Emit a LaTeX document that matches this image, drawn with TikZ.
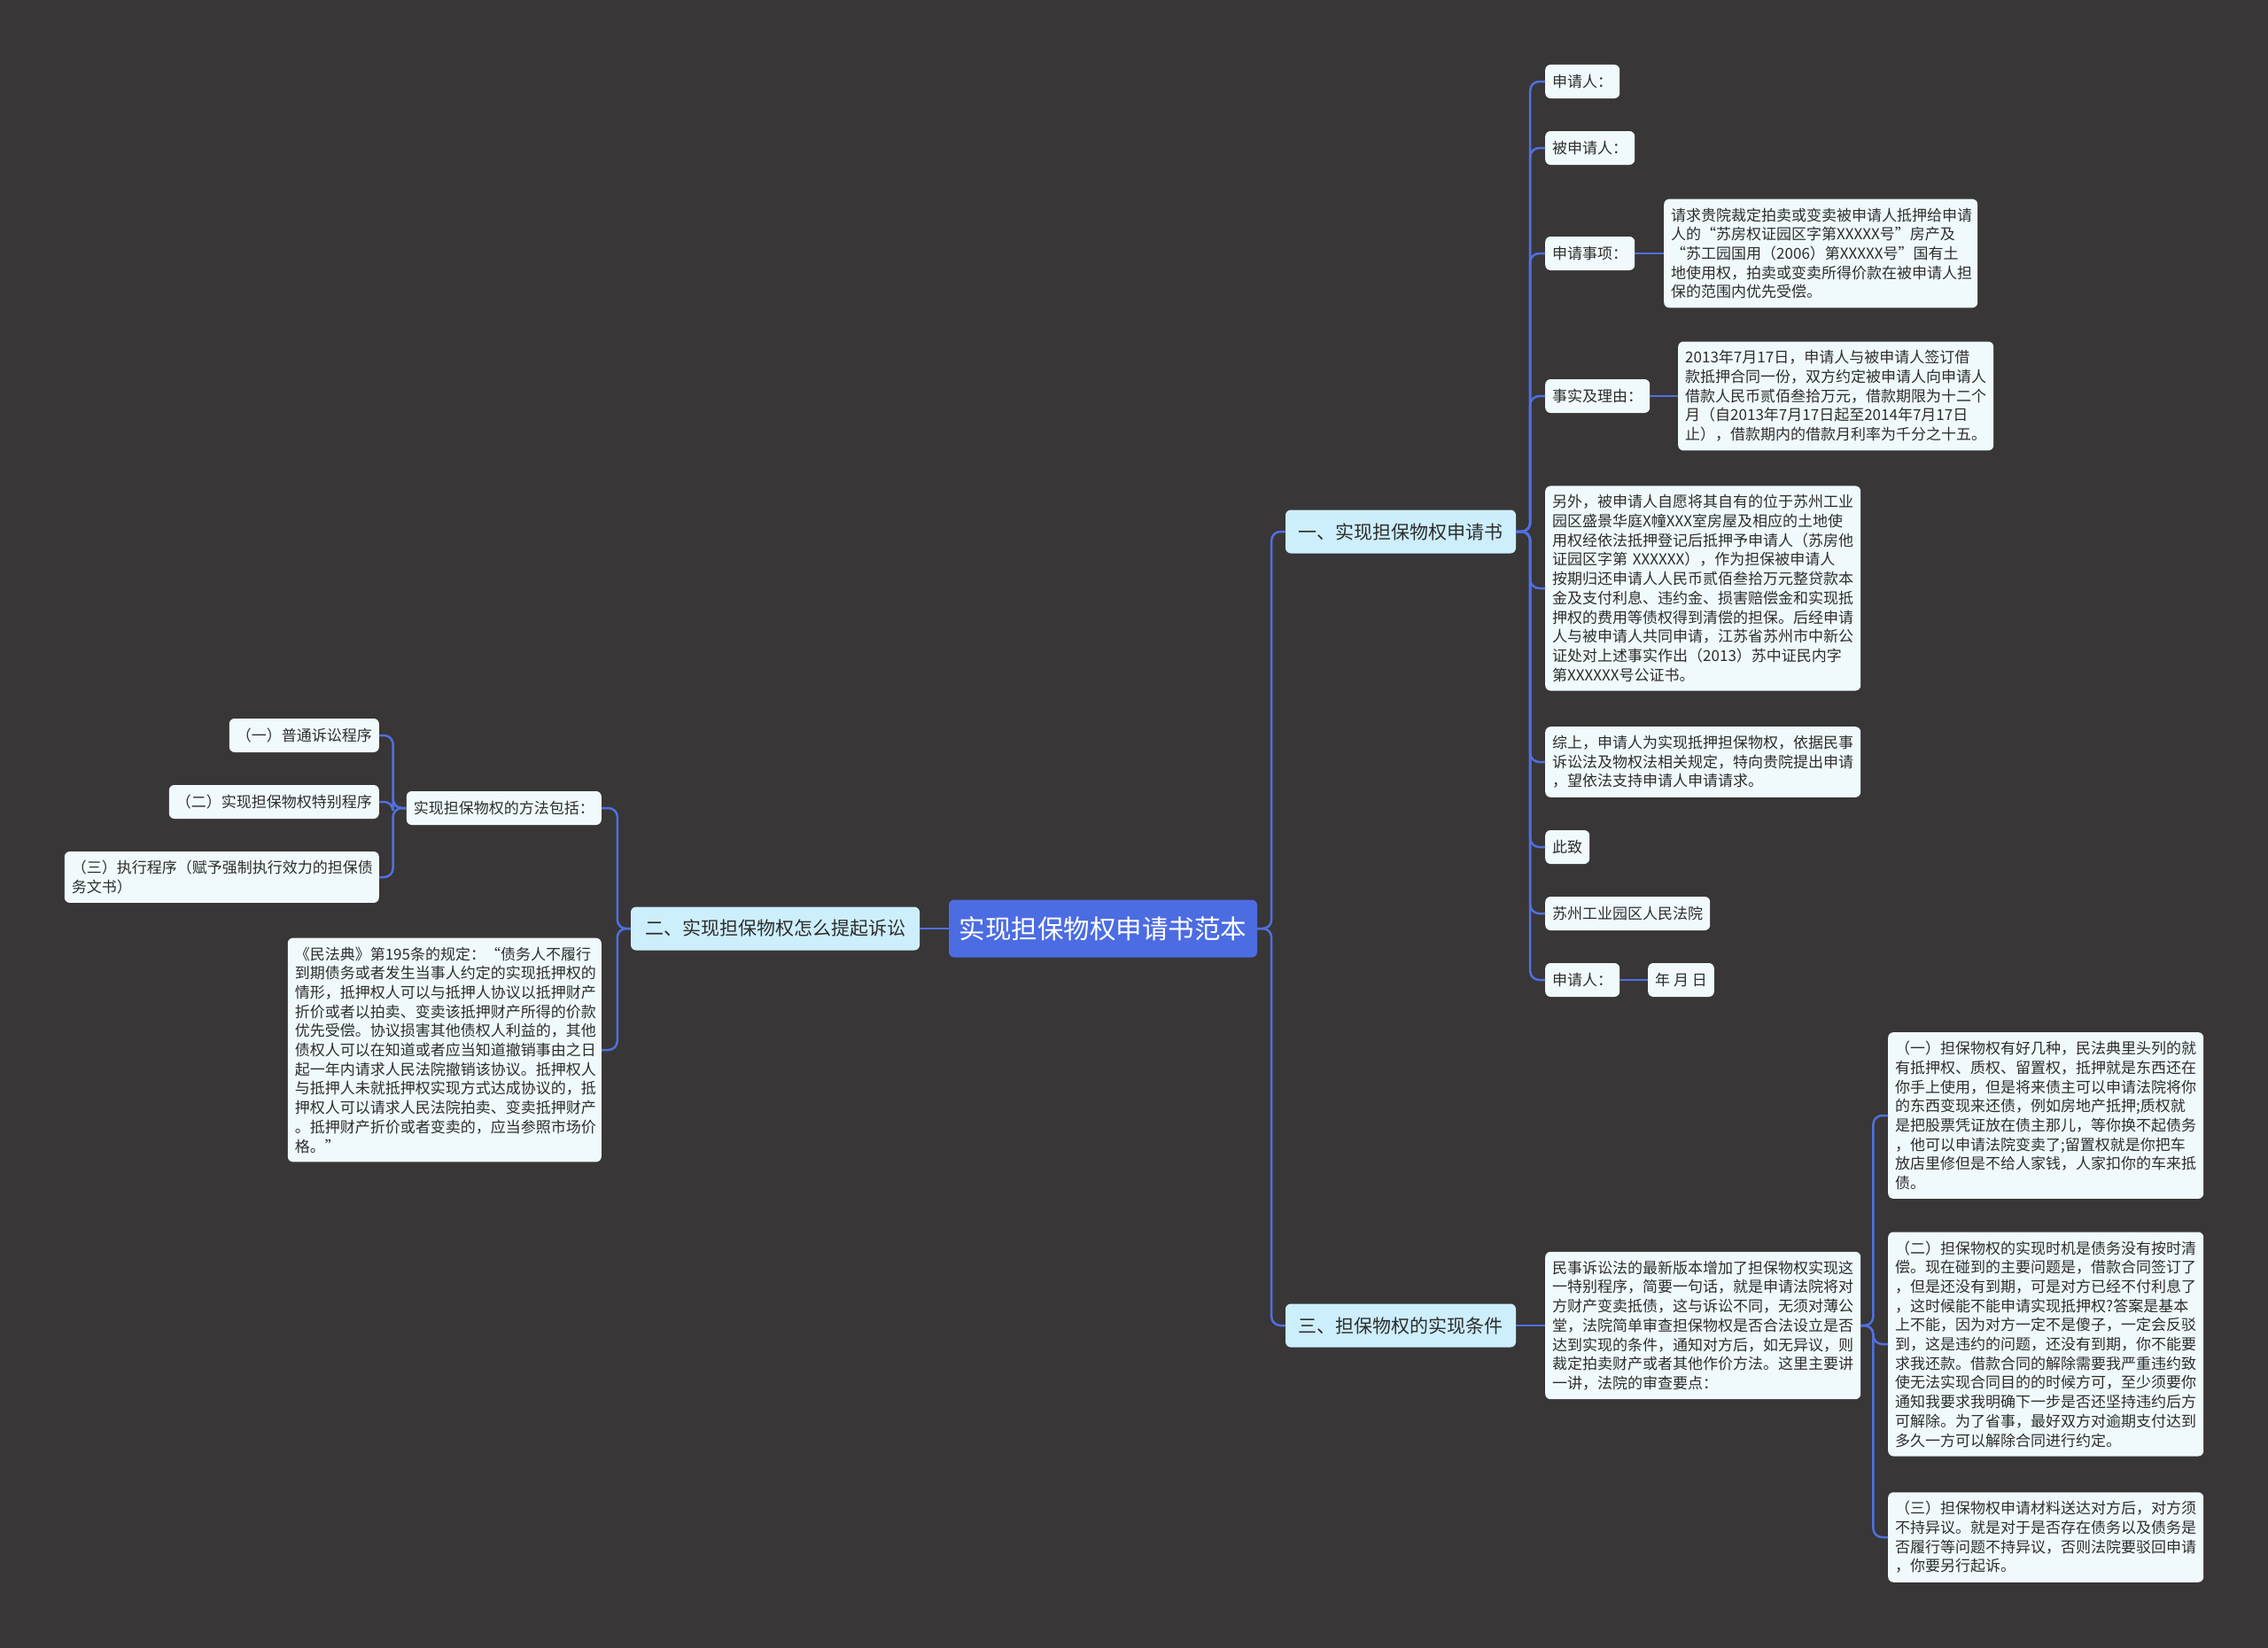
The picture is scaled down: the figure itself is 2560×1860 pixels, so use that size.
\documentclass[tikz,border=0pt]{standalone}
\usepackage{fontspec}
\newfontfamily\cjk{Noto Sans CJK SC}
\definecolor{bgc}{RGB}{56,54,55}
\definecolor{linec}{RGB}{80,112,222}
\definecolor{rootc}{RGB}{76,108,226}
\definecolor{lvlc}{RGB}{205,238,252}
\definecolor{leafc}{RGB}{240,250,253}
\definecolor{txtc}{RGB}{45,45,45}
\tikzset{
  rootbox/.style={fill=rootc, text=white, rounded corners=6pt, minimum width=348pt, minimum height=65pt, inner sep=0pt, font=\cjk\fontsize{29.5}{34}\selectfont},
  lvlbox/.style={fill=lvlc, text=txtc, rounded corners=6pt, minimum height=49pt, inner xsep=9pt, inner ysep=0pt, font=\cjk\fontsize{21}{26}\selectfont},
  leafbox/.style={fill=leafc, text=txtc, rounded corners=6pt, minimum height=38pt, inner xsep=8pt, inner ysep=6pt, font=\cjk\fontsize{17}{21.7}\selectfont, align=left},
  para/.style={leafbox, text width=340pt, inner ysep=10pt},
  conn/.style={draw=linec, line width=2.5pt, rounded corners=10pt},
}
\begin{document}
\begin{tikzpicture}[x=1pt,y=-1pt]
\fill[bgc] (0,0) rectangle (2560,1860);
\useasboundingbox (0,0) rectangle (2560,1860);

% root and main branches
\node[rootbox] (root) at (1245,1048) {实现担保物权申请书范本};
\node[lvlbox, minimum width=260pt] (n1) at (1581,600) {一、实现担保物权申请书};
\node[lvlbox, minimum width=326pt] (n2) at (875,1048) {二、实现担保物权怎么提起诉讼};
\node[lvlbox, minimum width=260pt] (n3) at (1581,1496) {三、担保物权的实现条件};

% branch one
\node[leafbox, anchor=west] (a1) at (1744,92) {申请人：};
\node[leafbox, anchor=west] (a2) at (1744,167) {被申请人：};
\node[leafbox, anchor=west] (a3) at (1744,286) {申请事项：};
\node[para, anchor=west, text width=338pt] (a3c) at (1878,286) {请求贵院裁定拍卖或变卖被申请人抵押给申请\\人的“苏房权证园区字第XXXXX号”房产及\\“苏工园国用（2006）第XXXXX号”国有土\\地使用权，拍卖或变卖所得价款在被申请人担\\保的范围内优先受偿。};
\node[leafbox, anchor=west] (a4) at (1744,447) {事实及理由：};
\node[para, anchor=west] (a4c) at (1894,447) {2013年7月17日，申请人与被申请人签订借\\款抵押合同一份，双方约定被申请人向申请人\\借款人民币贰佰叁拾万元，借款期限为十二个\\月（自2013年7月17日起至2014年7月17日\\止），借款期内的借款月利率为千分之十五。};
\node[para, anchor=west] (a5) at (1744,664) {另外，被申请人自愿将其自有的位于苏州工业\\园区盛景华庭X幢XXX室房屋及相应的土地使\\用权经依法抵押登记后抵押予申请人（苏房他\\证园区字第 XXXXXX），作为担保被申请人\\按期归还申请人人民币贰佰叁拾万元整贷款本\\金及支付利息、违约金、损害赔偿金和实现抵\\押权的费用等债权得到清偿的担保。后经申请\\人与被申请人共同申请，江苏省苏州市中新公\\证处对上述事实作出（2013）苏中证民内字\\第XXXXXX号公证书。};
\node[para, anchor=west] (a6) at (1744,860) {综上，申请人为实现抵押担保物权，依据民事\\诉讼法及物权法相关规定，特向贵院提出申请\\，望依法支持申请人申请请求。};
\node[leafbox, anchor=west] (a7) at (1744,956) {此致};
\node[leafbox, anchor=west] (a8) at (1744,1031) {苏州工业园区人民法院};
\node[leafbox, anchor=west] (a9) at (1744,1106) {申请人：};
\node[leafbox, anchor=west] (a9c) at (1860,1106) {年 月 日};

% branch two
\node[leafbox, anchor=east] (b1) at (679,912) {实现担保物权的方法包括：};
\node[leafbox, anchor=east] (b1a) at (428,830) {（一）普通诉讼程序};
\node[leafbox, anchor=east] (b1b) at (428,905) {（二）实现担保物权特别程序};
\node[para, anchor=east, text width=339pt] (b1c) at (428,990) {（三）执行程序（赋予强制执行效力的担保债\\务文书）};
\node[para, anchor=east, text width=338pt] (b2) at (679,1185) {《民法典》第195条的规定：“债务人不履行\\到期债务或者发生当事人约定的实现抵押权的\\情形，抵押权人可以与抵押人协议以抵押财产\\折价或者以拍卖、变卖该抵押财产所得的价款\\优先受偿。协议损害其他债权人利益的，其他\\债权人可以在知道或者应当知道撤销事由之日\\起一年内请求人民法院撤销该协议。抵押权人\\与抵押人未就抵押权实现方式达成协议的，抵\\押权人可以请求人民法院拍卖、变卖抵押财产\\。抵押财产折价或者变卖的，应当参照市场价\\格。”};

% branch three
\node[para, anchor=west] (c1) at (1744,1496) {民事诉讼法的最新版本增加了担保物权实现这\\一特别程序，简要一句话，就是申请法院将对\\方财产变卖抵债，这与诉讼不同，无须对薄公\\堂，法院简单审查担保物权是否合法设立是否\\达到实现的条件，通知对方后，如无异议，则\\裁定拍卖财产或者其他作价方法。这里主要讲\\一讲，法院的审查要点：};
\node[para, anchor=west] (c1a) at (2131,1259) {（一）担保物权有好几种，民法典里头列的就\\有抵押权、质权、留置权，抵押就是东西还在\\你手上使用，但是将来债主可以申请法院将你\\的东西变现来还债，例如房地产抵押;质权就\\是把股票凭证放在债主那儿，等你换不起债务\\，他可以申请法院变卖了;留置权就是你把车\\放店里修但是不给人家钱，人家扣你的车来抵\\债。};
\node[para, anchor=west] (c1b) at (2131,1517) {（二）担保物权的实现时机是债务没有按时清\\偿。现在碰到的主要问题是，借款合同签订了\\，但是还没有到期，可是对方已经不付利息了\\，这时候能不能申请实现抵押权?答案是基本\\上不能，因为对方一定不是傻子，一定会反驳\\到，这是违约的问题，还没有到期，你不能要\\求我还款。借款合同的解除需要我严重违约致\\使无法实现合同目的的时候方可，至少须要你\\通知我要求我明确下一步是否还坚持违约后方\\可解除。为了省事，最好双方对逾期支付达到\\多久一方可以解除合同进行约定。};
\node[para, anchor=west] (c1c) at (2131,1735) {（三）担保物权申请材料送达对方后，对方须\\不持异议。就是对于是否存在债务以及债务是\\否履行等问题不持异议，否则法院要驳回申请\\，你要另行起诉。};

% connectors
\foreach \c in {n1,n3} \draw[conn] (root.east) -- ++(16,0) |- (\c.west);
\draw[conn] (root.west) -- (n2.east);
\foreach \c in {a1,a2,a3,a4,a5,a6,a7,a8,a9} \draw[conn] (n1.east) -- ++(16,0) |- (\c.west);
\draw[conn] (a3.east) -- (a3c.west);
\draw[conn] (a4.east) -- (a4c.west);
\draw[conn] (a9.east) -- (a9c.west);
\foreach \c in {b1,b2} \draw[conn] (n2.west) -- ++(-15,0) |- (\c.east);
\foreach \c in {b1a,b1b,b1c} \draw[conn] (b1.west) -- ++(-15,0) |- (\c.east);
\draw[conn] (n3.east) -- (c1.west);
\foreach \c in {c1a,c1b,c1c} \draw[conn] (c1.east) -- ++(14,0) |- (\c.west);
\end{tikzpicture}
\end{document}
